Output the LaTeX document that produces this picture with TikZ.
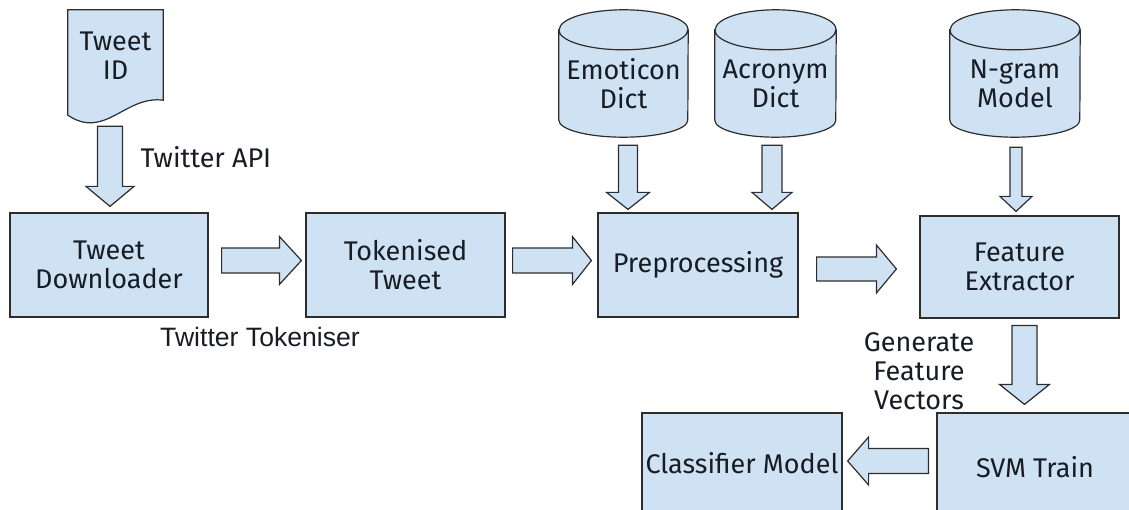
\documentclass[tikz,border=0pt]{standalone}
\usepackage{fontspec}
\setmainfont{Fira Sans}
\newfontfamily\tokfont{Liberation Sans}
\usetikzlibrary{calc, backgrounds}

\definecolor{boxfill}{RGB}{207,226,243}
\definecolor{boxline}{RGB}{45,45,45}
\definecolor{boxtext}{RGB}{24,28,36}

\tikzset{
  shaftw/.store in=\shaftw, headw/.store in=\headw, headl/.store in=\headl,
  shaftw=12.5pt, headw=24pt, headl=20pt,
  blockarrow/.style={draw=boxline, fill=boxfill, line width=1.2pt,
    to path={let \p1=(\tikztostart), \p2=(\tikztotarget), \p3=($(\p2)!\headl!(\p1)$) in
      ($(\p1)!\shaftw!90:(\p2)$) -- ($(\p3)!\shaftw!90:(\p2)$) -- ($(\p3)!\headw!90:(\p2)$)
      -- (\p2) -- ($(\p3)!\headw!-90:(\p2)$) -- ($(\p3)!\shaftw!-90:(\p2)$)
      -- ($(\p1)!\shaftw!-90:(\p2)$) -- cycle}}
}

% Cylinder outline round a named node: node, half width.
\newcommand{\drawstore}[2]{%
  \draw [draw=boxline, fill=boxfill, line width=1.2pt]
        (#1.north west) -- ($(#1.south west)+(0,-17)$)
        arc [start angle=180, end angle=360, x radius=#2, y radius=17pt]
        -- (#1.north east)
        arc [start angle=0, end angle=180, x radius=#2, y radius=20pt] -- cycle
        (#1.north west) arc [start angle=180, end angle=360, x radius=#2, y radius=20pt];}

\begin{document}
\begin{tikzpicture}[x=1pt, y=-1pt,
    box/.style = {rectangle, draw=boxline, fill=boxfill, line width=1.2pt, text=boxtext, align=center},
    store/.style = {rectangle, minimum height=107pt, text=boxtext, align=center},
    annot/.style = {text=boxtext, align=center},
    font=\fontsize{27pt}{29pt}\selectfont]
  \useasboundingbox (0, 0) rectangle (1129, 510);

  % Data sources.
  \node at (115.5, 56) [annot, minimum width=95pt, minimum height=92pt, name=TweetID] {Tweet\\ID};
  \node at (623.5, 83.5) [store, minimum width=129pt, name=EmoticonDict] {Emoticon\\Dict};
  \node at (775.5, 83.5) [store, minimum width=121pt, name=AcronymDict] {Acronym\\Dict};
  \node at (1015, 83.5) [store, minimum width=130pt, name=NgramModel] {N-gram\\Model};

  % Pipeline.
  \node at (109, 265) [box, minimum width=198pt, minimum height=104pt, name=TweetDownloader] {Tweet\\Downloader};
  \node at (405.5, 265) [box, minimum width=199pt, minimum height=104pt, name=TokenisedTweet] {Tokenised\\Tweet};
  \node at (698, 265) [box, minimum width=200pt, minimum height=104pt, name=Preprocessing] {Preprocessing};
  \node at (1019.5, 267) [box, minimum width=199pt, minimum height=102pt, name=FeatureExtractor] {Feature\\Extractor};
  \node at (1035, 467) [box, minimum width=196pt, minimum height=108pt, name=SVMTrain] {SVM Train};
  \node at (742, 463) [box, minimum width=200pt, minimum height=100pt, name=ClassifierModel] {Classifier Model};

  % Outlines behind the source nodes.
  \begin{scope}[on background layer]
    \draw [draw=boxline, fill=boxfill, line width=1.2pt]
          (TweetID.north west) -- (TweetID.north east) -- ($(TweetID.south east)+(0,-2)$)
          .. controls ($(TweetID.south)+(9.5,-7)$) and ($(TweetID.south)+(-10.5,38)$) ..
          ($(TweetID.south west)+(0,13)$) -- cycle;
    \drawstore{EmoticonDict}{64.5pt}
    \drawstore{AcronymDict}{60.5pt}
    \drawstore{NgramModel}{65pt}
  \end{scope}

  % Labels.
  \node at (137, 157) [annot, anchor=west, name=TwitterAPI] {Twitter API};
  \node at (260, 337) [annot, font=\tokfont\fontsize{26.6pt}{30pt}\selectfont, name=TwitterTokeniser] {Twitter Tokeniser};
  \node at (919, 371) [annot, name=GenerateVectors] {Generate\\Feature\\Vectors};

  % Tweet flow.
  \draw [blockarrow] ($(TweetID.south)+(-5.5,24)$)
             to ($(TweetDownloader.north)+(1,-6)$);
  \draw [blockarrow, headl=22pt] ($(TweetDownloader.east)+(13,-4.5)$)
             to ($(TokenisedTweet.west)+(-4,-4.5)$);
  \draw [blockarrow, headl=19pt] ($(TokenisedTweet.east)+(7,-4.5)$)
             to ($(Preprocessing.west)+(-6,-4.5)$);
  \draw [blockarrow, shaftw=12pt] ($(Preprocessing.east)+(18,4)$)
             to ($(FeatureExtractor.west)+(-23,2)$);

  % Dictionaries and model.
  \draw [blockarrow, shaftw=9.5pt, headw=21.5pt, headl=17pt] ($(EmoticonDict.south)+(4.5,8)$)
             to ($(EmoticonDict.south |- Preprocessing.north)+(4.5,-3)$);
  \draw [blockarrow, shaftw=10pt, headw=20pt, headl=17pt] ($(AcronymDict.south)+(-3.5,8)$)
             to ($(AcronymDict.south |- Preprocessing.north)+(-3.5,-3)$);
  \draw [blockarrow, shaftw=6pt, headw=16pt, headl=15pt] ($(NgramModel.south)+(1,10)$)
             to ($(NgramModel.south |- FeatureExtractor.north)+(1,-4)$);

  % Training.
  \draw [blockarrow, headw=25pt] ($(FeatureExtractor.south)+(5,7)$)
             to ($(FeatureExtractor.south |- SVMTrain.north)+(5,-8)$);
  \draw [blockarrow, headl=21pt] ($(SVMTrain.west)+(-8,-6)$)
             to ($(ClassifierModel.east |- SVMTrain.west)+(5,-6)$);
\end{tikzpicture}
\end{document}
